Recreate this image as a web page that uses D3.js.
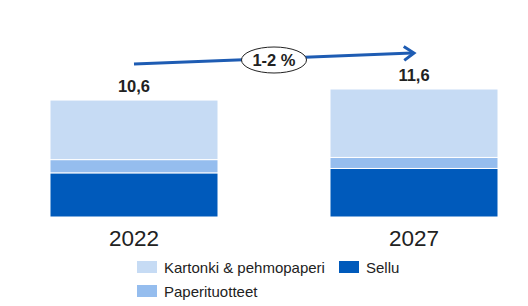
<!DOCTYPE html>
<html><head><meta charset="utf-8">
<script src="https://cdn.jsdelivr.net/npm/d3@7"></script>
<style>body{margin:0;background:#fff}svg{display:block;font-family:"Liberation Sans",Arial,sans-serif}</style>
</head><body><svg id="c" width="528" height="306"></svg>
<script>
const years = ["2022", "2027"];
const seriesNames = ["Sellu", "Paperituotteet", "Kartonki & pehmopaperi"];
const sellu = [4.0, 4.4];
const paperituotteet = [1.2, 1.0];
const kartonki = [5.4, 6.2];
const totals = ["10,6", "11,6"];
const growthLabel = "1-2 %";
const colors = {"Sellu": "#005ABB", "Paperituotteet": "#95BDEE", "Kartonki & pehmopaperi": "#C6DBF4"};

(function () {
const svg = d3.select("#c");
const rows = years.map((y, i) => ({year: y, "Sellu": sellu[i], "Paperituotteet": paperituotteet[i], "Kartonki & pehmopaperi": kartonki[i]}));
const stack = d3.stack().keys(seriesNames)(rows);

const x = d3.scaleBand().domain(years).range([50, 498]).paddingInner(0.4).paddingOuter(0);
const y = d3.scaleLinear().domain([0, 12]).range([217, 84.6]);

svg.append("g").selectAll("g").data(stack).join("g")
  .attr("fill", d => colors[d.key])
  .selectAll("rect").data(d => d).join("rect")
  .attr("x", d => x(d.data.year))
  .attr("width", x.bandwidth())
  .attr("y", d => y(d[1]))
  .attr("height", d => y(d[0]) - y(d[1]))
  .attr("stroke", "#fff").attr("stroke-width", 1);

const topLayer = stack[stack.length - 1];
svg.append("g").selectAll("text").data(topLayer).join("text")
  .attr("x", d => x(d.data.year) + x.bandwidth() / 2)
  .attr("y", d => y(d[1]) - 8)
  .attr("text-anchor", "middle")
  .attr("font-weight", "bold").attr("font-size", 16.5).attr("fill", "#222")
  .text((d, i) => totals[i]);

// x axis labels
svg.append("g").selectAll("text").data(years).join("text")
  .attr("x", d => x(d) + x.bandwidth() / 2)
  .attr("y", 245.5)
  .attr("text-anchor", "middle")
  .attr("font-size", 22.5).attr("fill", "#222")
  .text(d => d);

// growth arrow
const ax1 = x(years[0]) + x.bandwidth() / 2, ay1 = 64;
const ax2 = x(years[1]) + x.bandwidth() / 2, ay2 = 53;
const arrowColor = "#1E5CB3";
svg.append("line").attr("x1", ax1).attr("y1", ay1).attr("x2", ax2 - 2).attr("y2", ay2 + 0.08)
  .attr("stroke", arrowColor).attr("stroke-width", 3);
const ang = Math.atan2(ay2 - ay1, ax2 - ax1);
const hp = (dx, dy) => [ax2 + dx * Math.cos(ang) - dy * Math.sin(ang), ay2 + dx * Math.sin(ang) + dy * Math.cos(ang)];
svg.append("polyline")
  .attr("points", [hp(-10, -7), hp(0, 0), hp(-10, 7)].map(p => p.join(",")).join(" "))
  .attr("fill", "none").attr("stroke", arrowColor).attr("stroke-width", 3)
  .attr("stroke-linejoin", "miter").attr("stroke-linecap", "butt");
const ex = 274, ey = 60;
svg.append("ellipse").attr("cx", ex).attr("cy", ey).attr("rx", 32.5).attr("ry", 13)
  .attr("fill", "#fff").attr("stroke", "#222").attr("stroke-width", 1);
svg.append("text").attr("x", ex).attr("y", ey + 6).attr("text-anchor", "middle")
  .attr("font-weight", "bold").attr("font-size", 16.5).attr("fill", "#222").text(growthLabel);

// legend
const legendItems = [
  {name: "Kartonki & pehmopaperi", lx: 137, ly: 261},
  {name: "Sellu", lx: 339, ly: 261},
  {name: "Paperituotteet", lx: 137, ly: 285}
];
const lg = svg.append("g").selectAll("g").data(legendItems).join("g")
  .attr("transform", d => `translate(${d.lx},${d.ly})`);
lg.append("rect").attr("width", 20).attr("height", 12).attr("fill", d => colors[d.name]);
lg.append("text").attr("x", 27).attr("y", 11.5).attr("font-size", 15).attr("fill", "#222").text(d => d.name);
})();
</script></body></html>
